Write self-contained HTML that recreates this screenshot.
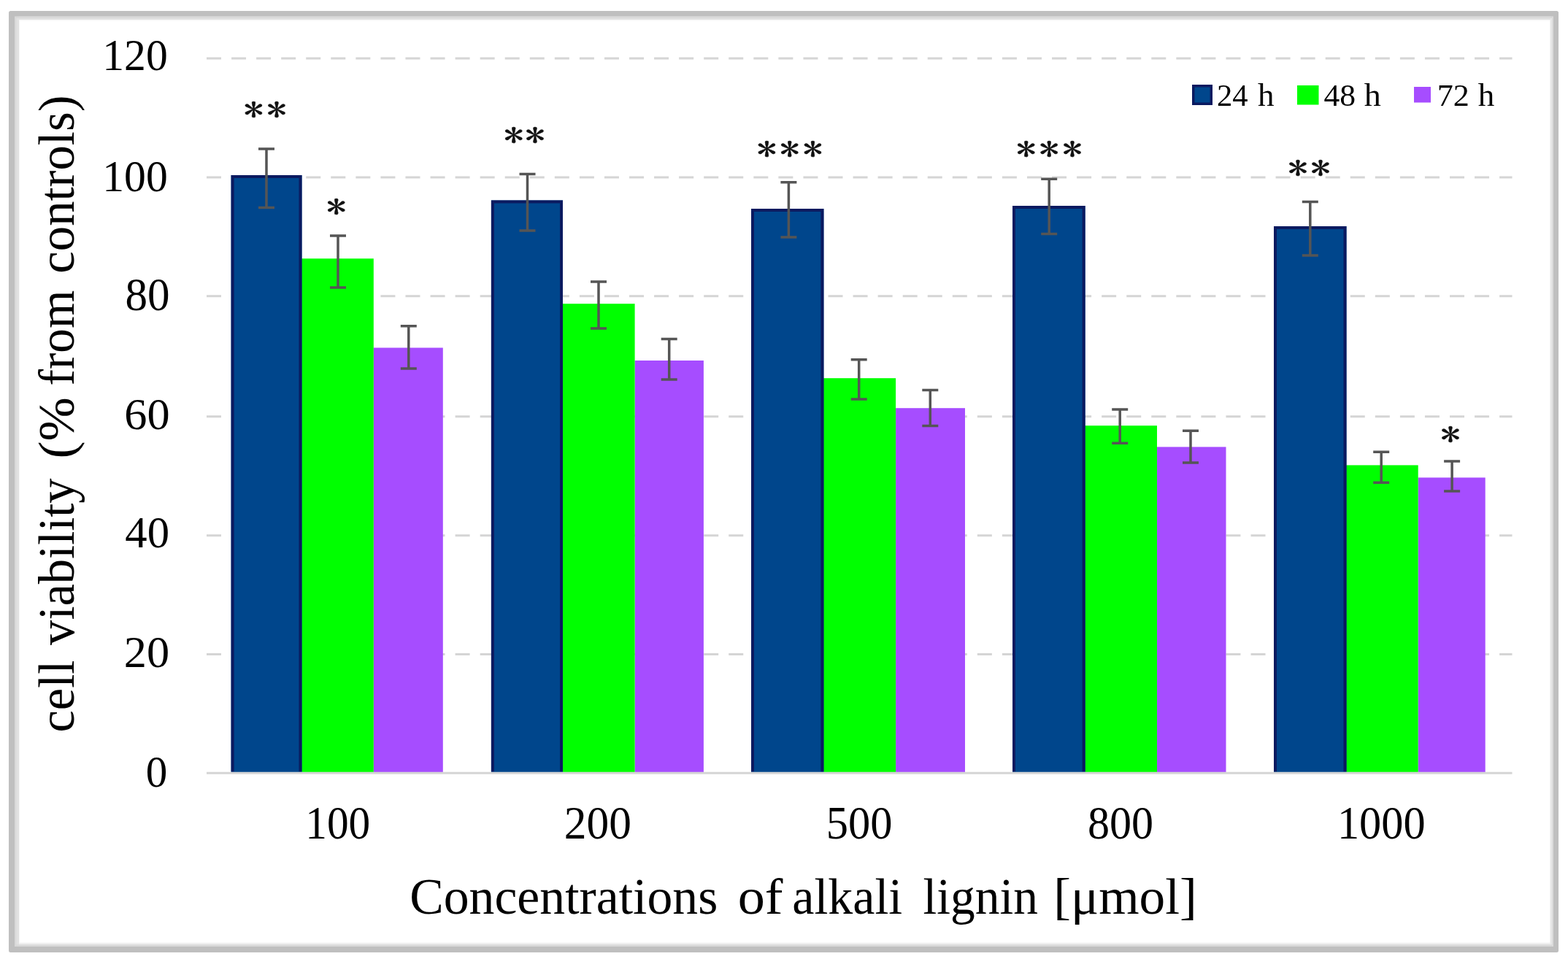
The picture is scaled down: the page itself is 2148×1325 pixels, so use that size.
<!DOCTYPE html>
<html><head><meta charset="utf-8"><title>Cell viability vs. alkali lignin concentration</title>
<style>
html,body{margin:0;padding:0;background:#fff;}
body{width:2148px;height:1325px;overflow:hidden;position:relative;}
svg{position:absolute;left:0;top:0;display:block;}
text{font-family:"Liberation Serif","Times New Roman",serif;fill:#000;}
.st{font-family:"IPAGothic","Liberation Serif",sans-serif;stroke:#111;stroke-width:0.4px;fill:#111;}
</style></head><body>
<svg width="2148" height="1325" viewBox="0 0 2148 1325">
<rect x="0" y="0" width="2148" height="1325" fill="#fff"/>
<rect x="20" y="22.6" width="2108" height="6" fill="#f8f8f8"/>
<rect x="20" y="1291.5" width="2108" height="5.5" fill="#f4f4f4"/>
<rect x="20" y="22.6" width="7" height="1274.4" fill="#f6f6f6"/>
<rect x="2123" y="22.6" width="5" height="1274.4" fill="#f4f4f4"/>
<rect x="20" y="22.6" width="2108" height="4.4" fill="#e1e1e1"/>
<rect x="20" y="1292.7" width="2108" height="4.3" fill="#ebebeb"/>
<rect x="20" y="22.6" width="6" height="1274.4" fill="#e1e1e1"/>
<rect x="2123.8" y="22.6" width="4.2" height="1274.4" fill="#e7e7e7"/>
<rect x="20" y="22.6" width="2108" height="2.4" fill="#d9d9d9"/>
<rect x="20" y="1294.4" width="2108" height="2.6" fill="#d9d9d9"/>
<rect x="20" y="22.6" width="2.4" height="1274.4" fill="#d9d9d9"/>
<rect x="2126" y="22.6" width="2" height="1274.4" fill="#dadada"/>
<path fill-rule="evenodd" fill="#bfbfbf" d="M14.5 15H2132.5Q2135 15 2135 17.5V1302.5Q2135 1305 2132.5 1305H14.5Q12 1305 12 1302.5V17.5Q12 15 14.5 15ZM20 22.6V1297H2128V22.6Z"/>
<line x1="283" y1="79.90" x2="2071.5" y2="79.90" stroke="#d5d5d5" stroke-width="3" stroke-dasharray="20 14.06"/>
<line x1="283" y1="242.90" x2="2071.5" y2="242.90" stroke="#d5d5d5" stroke-width="3" stroke-dasharray="20 14.06"/>
<line x1="283" y1="405.80" x2="2071.5" y2="405.80" stroke="#d5d5d5" stroke-width="3" stroke-dasharray="20 14.06"/>
<line x1="283" y1="570.85" x2="2071.5" y2="570.85" stroke="#d5d5d5" stroke-width="3" stroke-dasharray="20 14.06"/>
<line x1="283" y1="733.80" x2="2071.5" y2="733.80" stroke="#d5d5d5" stroke-width="3" stroke-dasharray="20 14.06"/>
<line x1="283" y1="896.60" x2="2071.5" y2="896.60" stroke="#d5d5d5" stroke-width="3" stroke-dasharray="20 14.06"/>
<rect x="511.80" y="476.50" width="95.00" height="582.00" fill="#a64dff"/>
<rect x="409.50" y="354.30" width="102.30" height="704.20" fill="#00ff00"/>
<rect x="316.60" y="240.00" width="96.90" height="818.50" fill="#00468c"/>
<path d="M318.60 1057.50V242.00H411.50V1057.50" fill="none" stroke="#0b1a60" stroke-width="4.0"/>
<rect x="869.60" y="494.00" width="94.30" height="564.50" fill="#a64dff"/>
<rect x="767.00" y="416.20" width="102.60" height="642.30" fill="#00ff00"/>
<rect x="672.90" y="274.50" width="98.10" height="784.00" fill="#00468c"/>
<path d="M674.90 1057.50V276.50H769.00V1057.50" fill="none" stroke="#0b1a60" stroke-width="4.0"/>
<rect x="1227.10" y="559.20" width="94.90" height="499.30" fill="#a64dff"/>
<rect x="1124.40" y="518.20" width="102.70" height="540.30" fill="#00ff00"/>
<rect x="1029.00" y="286.00" width="99.40" height="772.50" fill="#00468c"/>
<path d="M1031.00 1057.50V288.00H1126.40V1057.50" fill="none" stroke="#0b1a60" stroke-width="4.0"/>
<rect x="1585.00" y="612.40" width="94.50" height="446.10" fill="#a64dff"/>
<rect x="1482.60" y="583.20" width="102.40" height="475.30" fill="#00ff00"/>
<rect x="1387.00" y="282.00" width="99.60" height="776.50" fill="#00468c"/>
<path d="M1389.00 1057.50V284.00H1484.60V1057.50" fill="none" stroke="#0b1a60" stroke-width="4.0"/>
<rect x="1942.70" y="654.40" width="92.00" height="404.10" fill="#a64dff"/>
<rect x="1840.50" y="637.40" width="102.20" height="421.10" fill="#00ff00"/>
<rect x="1745.00" y="310.00" width="99.50" height="748.50" fill="#00468c"/>
<path d="M1747.00 1057.50V312.00H1842.50V1057.50" fill="none" stroke="#0b1a60" stroke-width="4.0"/>
<line x1="283" y1="1059.20" x2="2071.5" y2="1059.20" stroke="#d5d5d5" stroke-width="3"/>
<path d="M365.00 203.90V284.60M354.00 203.90H376.00M354.00 284.60H376.00" stroke="#555555" stroke-width="3.5" fill="none"/>
<path d="M463.00 322.90V393.90M452.00 322.90H474.00M452.00 393.90H474.00" stroke="#555555" stroke-width="3.5" fill="none"/>
<path d="M559.80 446.70V505.00M548.80 446.70H570.80M548.80 505.00H570.80" stroke="#555555" stroke-width="3.5" fill="none"/>
<path d="M722.50 238.50V316.10M711.50 238.50H733.50M711.50 316.10H733.50" stroke="#555555" stroke-width="3.5" fill="none"/>
<path d="M820.00 385.90V449.90M809.00 385.90H831.00M809.00 449.90H831.00" stroke="#555555" stroke-width="3.5" fill="none"/>
<path d="M916.70 464.40V519.90M905.70 464.40H927.70M905.70 519.90H927.70" stroke="#555555" stroke-width="3.5" fill="none"/>
<path d="M1080.40 249.70V325.10M1069.40 249.70H1091.40M1069.40 325.10H1091.40" stroke="#555555" stroke-width="3.5" fill="none"/>
<path d="M1176.70 492.80V546.90M1165.70 492.80H1187.70M1165.70 546.90H1187.70" stroke="#555555" stroke-width="3.5" fill="none"/>
<path d="M1274.30 534.60V583.40M1263.30 534.60H1285.30M1263.30 583.40H1285.30" stroke="#555555" stroke-width="3.5" fill="none"/>
<path d="M1437.20 245.20V320.50M1426.20 245.20H1448.20M1426.20 320.50H1448.20" stroke="#555555" stroke-width="3.5" fill="none"/>
<path d="M1534.20 560.90V607.30M1523.20 560.90H1545.20M1523.20 607.30H1545.20" stroke="#555555" stroke-width="3.5" fill="none"/>
<path d="M1631.00 590.20V634.00M1620.00 590.20H1642.00M1620.00 634.00H1642.00" stroke="#555555" stroke-width="3.5" fill="none"/>
<path d="M1794.80 276.60V350.00M1783.80 276.60H1805.80M1783.80 350.00H1805.80" stroke="#555555" stroke-width="3.5" fill="none"/>
<path d="M1892.20 619.30V661.30M1881.20 619.30H1903.20M1881.20 661.30H1903.20" stroke="#555555" stroke-width="3.5" fill="none"/>
<path d="M1989.10 631.90V673.10M1978.10 631.90H2000.10M1978.10 673.10H2000.10" stroke="#555555" stroke-width="3.5" fill="none"/>
<rect x="1634.75" y="117.75" width="24.5" height="24.5" fill="#00468c" stroke="#0b1a60" stroke-width="3.5"/>
<rect x="1777" y="117" width="29.5" height="26.5" fill="#00ff00"/>
<rect x="1937" y="119" width="23" height="21.5" fill="#a64dff"/>
<text transform="translate(347.5 150.5) scale(1.22 0.97)" x="0" y="17.2" font-size="45" text-anchor="middle" class="st">*</text>
<text transform="translate(379.0 150.5) scale(1.22 0.97)" x="0" y="17.2" font-size="45" text-anchor="middle" class="st">*</text>
<text transform="translate(460.6 282.9) scale(1.22 0.97)" x="0" y="17.2" font-size="45" text-anchor="middle" class="st">*</text>
<text transform="translate(703.6 185.7) scale(1.22 0.97)" x="0" y="17.2" font-size="45" text-anchor="middle" class="st">*</text>
<text transform="translate(732.9 185.7) scale(1.22 0.97)" x="0" y="17.2" font-size="45" text-anchor="middle" class="st">*</text>
<text transform="translate(1050.5 204.0) scale(1.22 0.97)" x="0" y="17.2" font-size="45" text-anchor="middle" class="st">*</text>
<text transform="translate(1081.7 204.0) scale(1.22 0.97)" x="0" y="17.2" font-size="45" text-anchor="middle" class="st">*</text>
<text transform="translate(1113.5 204.0) scale(1.22 0.97)" x="0" y="17.2" font-size="45" text-anchor="middle" class="st">*</text>
<text transform="translate(1405.7 204.1) scale(1.22 0.97)" x="0" y="17.2" font-size="45" text-anchor="middle" class="st">*</text>
<text transform="translate(1437.2 204.1) scale(1.22 0.97)" x="0" y="17.2" font-size="45" text-anchor="middle" class="st">*</text>
<text transform="translate(1469.0 204.1) scale(1.22 0.97)" x="0" y="17.2" font-size="45" text-anchor="middle" class="st">*</text>
<text transform="translate(1777.9 230.3) scale(1.22 0.97)" x="0" y="17.2" font-size="45" text-anchor="middle" class="st">*</text>
<text transform="translate(1809.0 230.3) scale(1.22 0.97)" x="0" y="17.2" font-size="45" text-anchor="middle" class="st">*</text>
<text transform="translate(1986.9 595.0) scale(1.22 0.97)" x="0" y="17.2" font-size="45" text-anchor="middle" class="st">*</text>
<text transform="translate(140.22 96.33) scale(0.9625 1)" font-size="62.04">120</text>
<text transform="translate(140.22 262.07) scale(0.9625 1)" font-size="62.04">100</text>
<text transform="translate(171.43 424.68) scale(0.9729 1)" font-size="62.84">80</text>
<text transform="translate(170.20 587.65) scale(1.0044 1)" font-size="62.10">60</text>
<text transform="translate(171.25 749.83) scale(0.9796 1)" font-size="62.04">40</text>
<text transform="translate(169.85 913.80) scale(1.0046 1)" font-size="62.10">20</text>
<text transform="translate(199.80 1078.35) scale(0.9604 1)" font-size="61.57">0</text>
<text transform="translate(418.22 1148.92) scale(0.9512 1)" font-size="62.40">100</text>
<text transform="translate(772.80 1148.92) scale(0.9852 1)" font-size="62.40">200</text>
<text transform="translate(1131.65 1148.92) scale(0.9701 1)" font-size="62.40">500</text>
<text transform="translate(1489.97 1148.92) scale(0.9628 1)" font-size="62.40">800</text>
<text transform="translate(1831.88 1148.92) scale(0.9673 1)" font-size="62.40">1000</text>
<text transform="translate(561.17 1251.60) scale(0.9961 1)" font-size="70.00">Concentrations</text>
<text transform="translate(1010.67 1251.60) scale(1.0600 1)" font-size="70.00">of</text>
<text transform="translate(1085.27 1251.60) scale(0.9712 1)" font-size="70.00">alkali</text>
<text transform="translate(1264.45 1251.60) scale(0.9640 1)" font-size="70.00">lignin</text>
<text transform="translate(1443.27 1251.60) scale(1.0173 1)" font-size="70.00">[μmol]</text>
<text transform="translate(100.70 1003.58) rotate(-90) scale(0.9935 1)" font-size="69.00">cell</text>
<text transform="translate(100.70 883.88) rotate(-90) scale(0.9933 1)" font-size="69.00">viability</text>
<text transform="translate(100.70 628.60) rotate(-90) scale(1.0470 1)" font-size="69.00">(%</text>
<text transform="translate(100.70 528.55) rotate(-90) scale(0.9764 1)" font-size="69.00">from</text>
<text transform="translate(100.70 374.70) rotate(-90) scale(0.9959 1)" font-size="69.00">controls)</text>
<text transform="translate(1666.97 144.90) scale(0.9890 1)" font-size="43.08">24</text>
<text transform="translate(1722.92 144.95) scale(1.0114 1)" font-size="44.45">h</text>
<text transform="translate(1813.45 144.53) scale(1.0390 1)" font-size="41.99">48</text>
<text transform="translate(1868.78 144.95) scale(1.0366 1)" font-size="44.45">h</text>
<text transform="translate(1968.82 144.90) scale(1.0240 1)" font-size="43.08">72</text>
<text transform="translate(2024.78 144.95) scale(1.0114 1)" font-size="44.45">h</text>
</svg>
</body></html>
